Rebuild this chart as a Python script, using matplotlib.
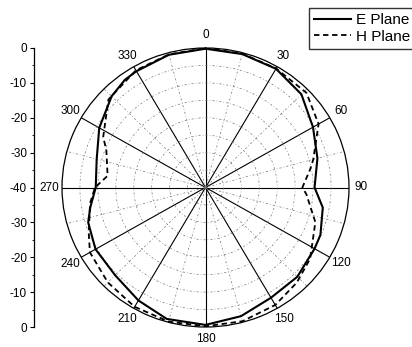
import numpy as np
import matplotlib
matplotlib.use("Agg")
import matplotlib.pyplot as plt
from matplotlib.ticker import MultipleLocator

plt.rcParams['font.family'] = ['Liberation Sans', 'DejaVu Sans']

# E plane (solid), angle in degrees, level in dB
e_angle = [0, 15, 30, 45, 60, 75, 90, 100, 113, 120, 135, 150, 165, 180,
           196, 210, 225, 240, 253, 260, 270, 285, 300, 315, 324, 330, 345, 360]
e_db = [-0.2, -0.4, -0.7, -2.2, -5.4, -7.7, -9.6, -6.8, -5.2, -4.9, -3.8, -3.5, -1.8, -0.6,
        -0.8, -2.6, -4.4, -4.6, -5.8, -7.4, -9.4, -8.6, -5.8, -3.0, -1.8, -1.5, -0.6, -0.2]

# H plane (dashed)
h_angle = [0, 15, 30, 46, 60, 75, 80, 90, 94, 108, 125, 137, 150, 165, 180,
           195, 210, 225, 240, 248, 262, 270, 277, 291, 297, 313, 330, 345, 360]
h_db = [0.0, -0.3, -0.6, -0.9, -3.6, -8.9, -10.4, -13.0, -11.8, -7.8, -4.4, -2.7, -1.1, -0.3, -0.2,
        -0.2, -0.5, -1.5, -2.8, -4.9, -7.5, -9.2, -12.5, -10.4, -8.0, -3.0, -1.2, -0.5, 0.0]

angle_ticks = list(range(0, 360, 30))
angle_labels = [str(a) for a in angle_ticks]
ring_levels = [-35, -30, -25, -20, -15, -10, -5]
left_ticks = [-40, -30, -20, -10, 0, 10, 20, 30, 40]
left_labels = ['0', '-10', '-20', '-30', '-40', '-30', '-20', '-10', '0']

W, H = 412, 347
fig = plt.figure(figsize=(W / 100, H / 100), dpi=100)

# polar plot area (slightly wider than tall, like the scan)
left, right, top, bottom = 62, 349, 48, 327
ax = fig.add_axes([left / W, 1 - bottom / H, (right - left) / W, (bottom - top) / H],
                  projection='polar')
ax.set_aspect('auto')
ax.set_theta_zero_location('N')
ax.set_theta_direction(-1)
ax.set_ylim(-40, 0)

ax.set_thetagrids(angle_ticks, angle_labels, fontsize=8.5)
ax.tick_params(axis='x', pad=-1.5)
ax.set_rticks(ring_levels)
ax.set_yticklabels([])
grid_ls = (0, (3, 3, 1, 3))
ax.xaxis.grid(True, color='black', lw=0.8, ls='-')
ax.yaxis.grid(True, color='0.45', lw=0.5, ls=grid_ls)
ax.spines['polar'].set_linewidth(0.9)

# dotted minor spokes between the 30 degree spokes
for a in range(15, 360, 30):
    ax.plot([np.radians(a)] * 2, [-40, 0], color='0.45', lw=0.5, ls=grid_ls)

ax.plot(np.radians(e_angle), e_db, color='black', lw=1.5, ls='-', label='E Plane')
ax.plot(np.radians(h_angle), h_db, color='black', lw=1.3, ls=(0, (3, 2)), label='H Plane')

# left radial scale
ax2 = fig.add_axes([34 / W, 1 - bottom / H, 0.01, (bottom - top) / H])
ax2.set_ylim(-40, 40)
ax2.set_yticks(left_ticks)
ax2.set_yticklabels(left_labels, fontsize=8.5)
ax2.yaxis.set_minor_locator(MultipleLocator(5))
ax2.tick_params(axis='y', direction='out', length=3, width=0.8, pad=2)
ax2.tick_params(axis='y', which='minor', direction='out', length=1.5, width=0.6)
ax2.set_xticks([])
for s in ['top', 'right', 'bottom']:
    ax2.spines[s].set_visible(False)
ax2.spines['left'].set_linewidth(0.9)
ax2.patch.set_alpha(0)

handles, labels = ax.get_legend_handles_labels()
fig.legend(handles, labels, loc='upper left', bbox_to_anchor=(309 / W, 1 - 8 / H),
           fontsize=11, frameon=True, fancybox=False, edgecolor='black',
           handlelength=2.4, handletextpad=0.3, borderpad=0.35, labelspacing=0.15,
           borderaxespad=0)

fig.savefig('out.png', dpi=100)
